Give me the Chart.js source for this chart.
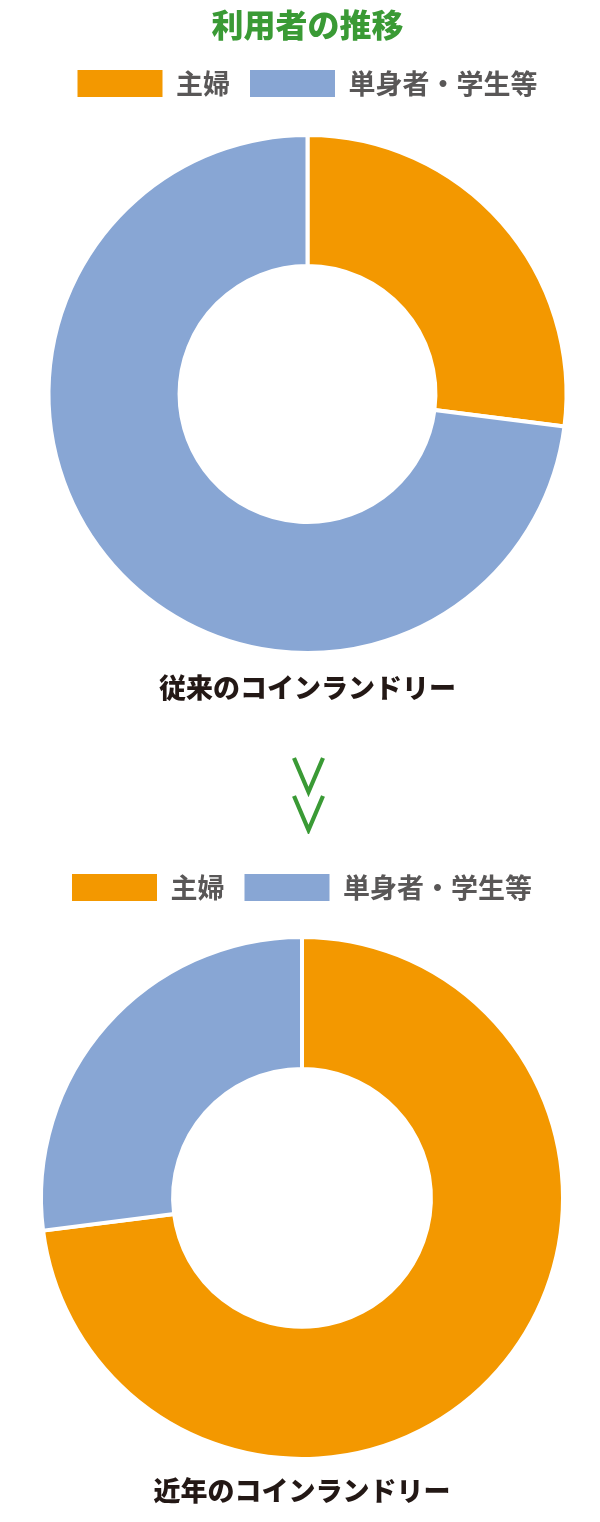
<!DOCTYPE html>
<html lang="ja">
<head>
<meta charset="utf-8">
<title>利用者の推移</title>
<script src="https://cdn.jsdelivr.net/npm/chart.js@4.4.1/dist/chart.umd.min.js"></script>
<style>
  html, body { margin: 0; padding: 0; background: #fff; }
  body { width: 600px; height: 1522px; position: relative; overflow: hidden; }
  .box { position: absolute; left: 0; width: 600px; }
  #past-box { top: 0; height: 740px; }
  #recent-box { top: 840px; height: 682px; }
  #arrows { position: absolute; left: 292px; top: 756px; }
</style>
</head>
<body>
<div class="box" id="past-box"><canvas id="pastChart"></canvas></div>

<!-- green double chevron between the two charts -->
<svg id="arrows" width="33" height="78" viewBox="0 0 33 78">
  <polyline points="2,2 16.5,36 31,2" fill="none" stroke="#3a9a35" stroke-width="4.2"/>
  <polyline points="2,40 16.5,74 31,40" fill="none" stroke="#3a9a35" stroke-width="4.2"/>
</svg>

<div class="box" id="recent-box"><canvas id="recentChart"></canvas></div>

<script>
// --- data ---
const categories = ['主婦', '単身者・学生等'];
const pastShares = [27, 73];     // 従来のコインランドリー (%)
const recentShares = [73, 27];   // 近年のコインランドリー (%)
const sliceColors = ['#f39800', '#88a6d4'];

const headline = '利用者の推移';
const pastCaption = '従来のコインランドリー';
const recentCaption = '近年のコインランドリー';

const JP_FONT = '"Noto Sans CJK JP", "Noto Sans", sans-serif';

Chart.defaults.font.family = JP_FONT;
Chart.defaults.animation = false;
Chart.defaults.responsive = true;
Chart.defaults.maintainAspectRatio = false;

// legend boxes without the white slice border
function plainLabels(chart) {
    const base = Chart.overrides.doughnut.plugins.legend.labels.generateLabels(chart);
    return base.map(l => Object.assign(l, { lineWidth: 0, strokeStyle: 'transparent' }));
}

function legendOptions() {
    return {
        display: true,
        position: 'top',
        labels: {
            boxWidth: 85,
            boxHeight: 27,
            padding: 20,
            color: '#595757',
            font: { size: 27, weight: 'bold' },
            generateLabels: plainLabels
        },
        onClick: null
    };
}

function captionOptions(text, padTop, padBottom) {
    return {
        display: true,
        position: 'bottom',
        text: text,
        color: '#231815',
        font: { size: 27, weight: '900' },
        padding: { top: padTop, bottom: padBottom }
    };
}

function donutDataset(values) {
    return {
        data: values,
        backgroundColor: sliceColors,
        borderColor: '#ffffff',
        borderWidth: 4,
        hoverOffset: 0
    };
}

// 1. past usage
new Chart(document.getElementById('pastChart'), {
    type: 'doughnut',
    data: {
        labels: categories,
        datasets: [donutDataset(pastShares)]
    },
    options: {
        radius: 259,
        cutout: '49.4%',
        layout: { padding: { left: 15, right: 0, top: 0, bottom: 0 } },
        plugins: {
            title: {
                display: true,
                position: 'top',
                text: headline,
                color: '#3a9a35',
                font: { size: 32, weight: '900' },
                padding: { top: 6, bottom: 5.6 }
            },
            legend: legendOptions(),
            subtitle: captionOptions(pastCaption, -9, 35.6),
            tooltip: { enabled: false }
        },
        events: []
    }
});

// 2. recent usage
new Chart(document.getElementById('recentChart'), {
    type: 'doughnut',
    data: {
        labels: categories,
        datasets: [donutDataset(recentShares)]
    },
    options: {
        radius: 261,
        cutout: '49.4%',
        layout: { padding: { left: 4, right: 0, top: 14, bottom: 0 } },
        plugins: {
            legend: legendOptions(),
            title: captionOptions(recentCaption, -10, 14.8),
            tooltip: { enabled: false }
        },
        events: []
    }
});
</script>
</body>
</html>
